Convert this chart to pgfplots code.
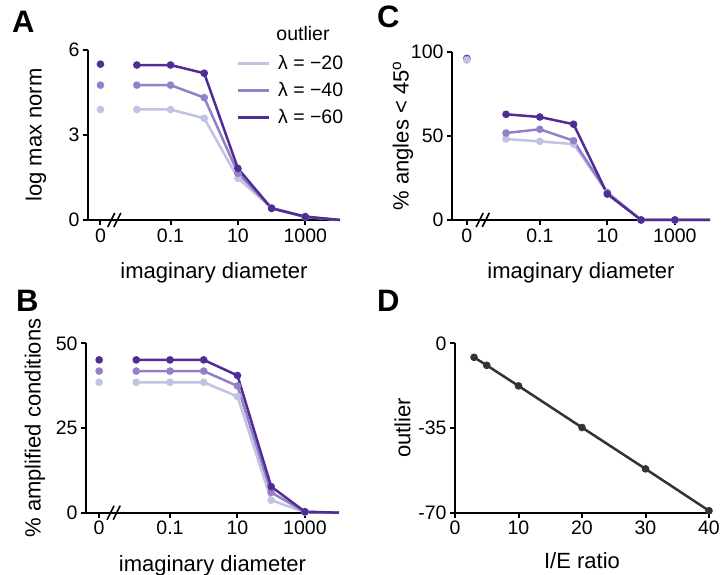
\documentclass[border=0pt]{standalone}
\usepackage{fontspec}
\setmainfont{Liberation Sans}
\usepackage{pgfplots}
\pgfplotsset{compat=1.18}

\definecolor{cL}{HTML}{C0C3E2}
\definecolor{cM}{HTML}{9380C8}
\definecolor{cD}{HTML}{4F2D95}
\definecolor{cG}{HTML}{333333}

\pgfplotsset{
  panel/.style={
    scale only axis,
    axis lines*=left,
    axis line style={line width=2pt, black},
    tick align=outside,
    major tick length=5pt,
    tick style={line width=2pt, black},
    clip=false,
    tick label style={font=\fontsize{19.5}{22}\selectfont},
    label style={font=\fontsize{22}{26}\selectfont},
    /pgf/number format/assume math mode=true,
    every axis plot/.append style={line width=2.5pt},
    mark size=2.5pt,
  },
}

\begin{document}
\begin{tikzpicture}
\path[use as bounding box] (0pt,0pt) rectangle (721pt,575pt);

% ---------------- Panel A ----------------
\begin{axis}[panel,
  at={(88pt,355pt)}, anchor=south west,
  width=252pt, height=170pt,
  xmin=-3.45, xmax=4.03, ymin=0, ymax=6,
  xtick={-3.08,-1,1,3}, xticklabels={0,0.1,10,1000},
  ytick={0,3,6}, yticklabels={0,3,6},
  xlabel={imaginary diameter}, ylabel={log max norm},
  xlabel style={at={([yshift=-53pt]axis description cs:0.5,0)}, anchor=center},
  ylabel style={at={([xshift=-52pt]axis description cs:0,0.5)}, anchor=center},
  legend style={at={(0.587,0.975)}, anchor=north west, draw=none, fill=none,
    inner sep=0pt, row sep=9.5pt, font=\fontsize{19.5}{22}\selectfont,
    nodes={inner sep=1pt},
    /tikz/every odd column/.append style={column sep=7pt}},
  legend cell align=left,
  legend image code/.code={\draw[#1, line width=3pt] (0pt,0pt) -- (31pt,0pt);},
]
\addplot[cL, mark=*, mark indices={1,2,3,4,5,6}, mark options={draw=none}]
  coordinates {(-2,3.90) (-1,3.90) (0,3.59) (1,1.47) (2,0.43) (3,0.12) (4.03,0)};
\addlegendentry{λ = −20}
\addplot[cM, mark=*, mark indices={1,2,3,4,5,6}, mark options={draw=none}]
  coordinates {(-2,4.76) (-1,4.76) (0,4.32) (1,1.65) (2,0.42) (3,0.10) (4.03,0)};
\addlegendentry{λ = −40}
\addplot[cD, mark=*, mark indices={1,2,3,4,5,6}, mark options={draw=none}]
  coordinates {(-2,5.47) (-1,5.47) (0,5.18) (1,1.82) (2,0.41) (3,0.12) (4.03,0)};
\addlegendentry{λ = −60}
\addplot[cL, only marks, mark=*, mark options={draw=none}, forget plot] coordinates {(-3.08,3.90)};
\addplot[cM, only marks, mark=*, mark options={draw=none}, forget plot] coordinates {(-3.08,4.76)};
\addplot[cD, only marks, mark=*, mark options={draw=none}, forget plot] coordinates {(-3.08,5.50)};
\draw[line width=1.6pt] (axis cs:-2.76,0) ++(-3.5pt,-7pt) -- ++(7pt,14pt);
\draw[line width=1.6pt] (axis cs:-2.58,0) ++(-3.5pt,-7pt) -- ++(7pt,14pt);
\end{axis}

% ---------------- Panel C ----------------
\begin{axis}[panel,
  at={(452pt,355pt)}, anchor=south west,
  width=258pt, height=168.3pt,
  xmin=-3.6, xmax=4.04, ymin=0, ymax=100,
  xtick={-3.16,-1,1,3}, xticklabels={0,0.1,10,1000},
  ytick={0,50,100}, yticklabels={0,50,100},
  xlabel={imaginary diameter}, ylabel={\% angles < 45\textsuperscript{o}},
  xlabel style={at={([yshift=-53pt]axis description cs:0.5,0)}, anchor=center},
  ylabel style={at={([xshift=-49pt]axis description cs:0,0.5)}, anchor=center},
]
\addplot[cL, mark=*, mark indices={1,2,3,4,5,6}, mark options={draw=none}]
  coordinates {(-2,48.1) (-1,46.7) (0,45.1) (1,16.4) (2,0) (3,0) (4.04,0)};
\addplot[cM, mark=*, mark indices={1,2,3,4,5,6}, mark options={draw=none}]
  coordinates {(-2,51.7) (-1,53.9) (0,47.1) (1,16.2) (2,0) (3,0) (4.04,0)};
\addplot[cD, mark=*, mark indices={1,2,3,4,5,6}, mark options={draw=none}]
  coordinates {(-2,62.8) (-1,61.2) (0,56.9) (1,15.4) (2,0) (3,0) (4.04,0)};
\addplot[cD, only marks, mark=*, mark options={draw=none}] coordinates {(-3.16,96.0)};
\addplot[cM, only marks, mark=*, mark options={draw=none}] coordinates {(-3.16,95.5)};
\addplot[cL, only marks, mark=*, mark options={draw=none}] coordinates {(-3.16,95.0)};
\draw[line width=1.6pt] (axis cs:-2.78,0) ++(-3.5pt,-7pt) -- ++(7pt,14pt);
\draw[line width=1.6pt] (axis cs:-2.6,0) ++(-3.5pt,-7pt) -- ++(7pt,14pt);
\end{axis}

% ---------------- Panel B ----------------
\begin{axis}[panel,
  at={(86pt,62.3pt)}, anchor=south west,
  width=253pt, height=169.4pt,
  xmin=-3.49, xmax=4.01, ymin=0, ymax=50,
  xtick={-3.1,-1,1,3}, xticklabels={0,0.1,10,1000},
  ytick={0,25,50}, yticklabels={0,25,50},
  xlabel={imaginary diameter}, ylabel={\% amplified conditions},
  xlabel style={at={([yshift=-53pt]axis description cs:0.5,0)}, anchor=center},
  ylabel style={at={([xshift=-51pt]axis description cs:0,0.5)}, anchor=center},
]
\addplot[cL, mark=*, mark indices={1,2,3,4,5,6}, mark options={draw=none}]
  coordinates {(-2,38.5) (-1,38.5) (0,38.5) (1,34.3) (2,3.7) (3,0.1) (4.01,0)};
\addplot[cM, mark=*, mark indices={1,2,3,4,5,6}, mark options={draw=none}]
  coordinates {(-2,41.8) (-1,41.8) (0,41.8) (1,37.4) (2,6.0) (3,0.2) (4.01,0)};
\addplot[cD, mark=*, mark indices={1,2,3,4,5,6}, mark options={draw=none}]
  coordinates {(-2,45.1) (-1,45.1) (0,45.1) (1,40.5) (2,7.7) (3,0.3) (4.01,0)};
\addplot[cL, only marks, mark=*, mark options={draw=none}] coordinates {(-3.1,38.5)};
\addplot[cM, only marks, mark=*, mark options={draw=none}] coordinates {(-3.1,41.8)};
\addplot[cD, only marks, mark=*, mark options={draw=none}] coordinates {(-3.1,45.1)};
\draw[line width=1.6pt] (axis cs:-2.76,0) ++(-3.5pt,-7pt) -- ++(7pt,14pt);
\draw[line width=1.6pt] (axis cs:-2.58,0) ++(-3.5pt,-7pt) -- ++(7pt,14pt);
\end{axis}

% ---------------- Panel D ----------------
\begin{axis}[panel,
  at={(455pt,62.3pt)}, anchor=south west,
  width=254pt, height=169.4pt,
  xmin=0, xmax=40, ymin=-70, ymax=0,
  xtick={0,10,20,30,40}, xticklabels={0,10,20,30,40},
  ytick={-70,-35,0}, yticklabels={-70,-35,0},
  xlabel={I/E ratio}, ylabel={outlier},
  xlabel style={at={([yshift=-48pt]axis description cs:0.5,0)}, anchor=center},
  ylabel style={at={([xshift=-52.5pt]axis description cs:0,0.5)}, anchor=center},
]
\addplot[cG, mark=*, mark options={draw=none}]
  coordinates {(3,-5.8) (5,-9.1) (10,-17.6) (20,-34.8) (30,-51.9) (40,-69.2)};
\end{axis}

% panel letters and legend title
\node[anchor=base west, font=\fontsize{31}{34}\selectfont\bfseries, inner sep=0pt] at (12pt,542pt) {A};
\node[anchor=base west, font=\fontsize{31}{34}\selectfont\bfseries, inner sep=0pt] at (377pt,547pt) {C};
\node[anchor=base west, font=\fontsize{31}{34}\selectfont\bfseries, inner sep=0pt] at (16pt,263pt) {B};
\node[anchor=base west, font=\fontsize{31}{34}\selectfont\bfseries, inner sep=0pt] at (377pt,263pt) {D};
\node[anchor=base, font=\fontsize{19.5}{22}\selectfont, inner sep=0pt] at (303pt,534pt) {outlier};
\end{tikzpicture}
\end{document}
